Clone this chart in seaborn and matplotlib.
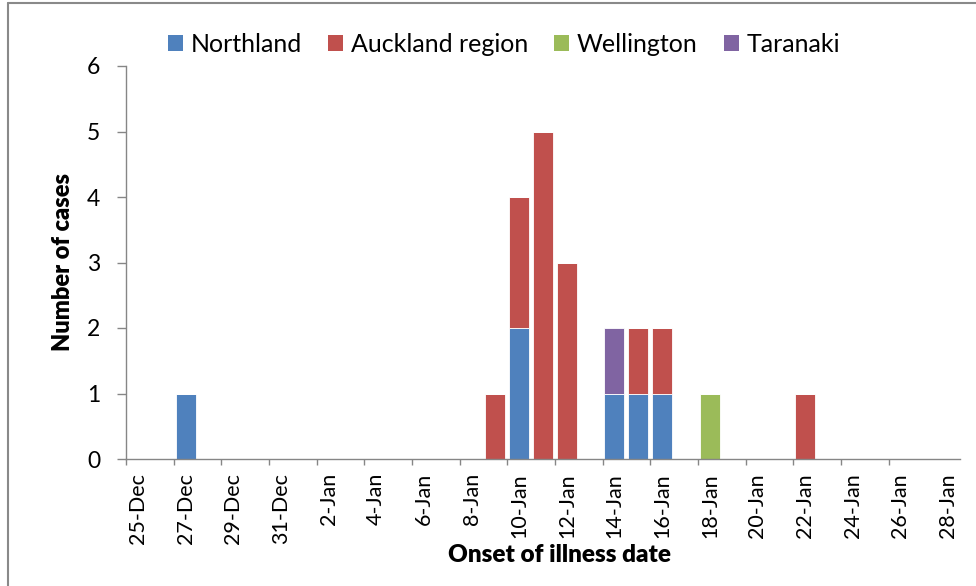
import pandas as pd
import matplotlib
matplotlib.use('Agg')
import matplotlib.pyplot as plt
import seaborn as sns
from matplotlib.patches import Patch
from matplotlib.lines import Line2D

# data
day_labels = [d.strftime('%-d-%b') for d in pd.date_range('2013-12-25', '2014-01-28')]

northland_dates = ['27-Dec', '10-Jan', '14-Jan', '15-Jan', '16-Jan']
northland_cases = [1, 2, 1, 1, 1]
auckland_dates = ['9-Jan', '10-Jan', '11-Jan', '12-Jan', '15-Jan', '16-Jan', '22-Jan']
auckland_cases = [1, 2, 5, 3, 1, 1, 1]
wellington_dates = ['18-Jan']
wellington_cases = [1]
taranaki_dates = ['14-Jan']
taranaki_cases = [1]

regions = ['Northland', 'Auckland region', 'Wellington', 'Taranaki']
colors = ['#4F81BD', '#C0504D', '#9BBB59', '#8064A2']

rows = []
for reg, dates, cases in zip(regions,
                             [northland_dates, auckland_dates, wellington_dates, taranaki_dates],
                             [northland_cases, auckland_cases, wellington_cases, taranaki_cases]):
    for d, c in zip(dates, cases):
        rows.append({'day': day_labels.index(d), 'region': reg, 'cases': c})
df = pd.DataFrame(rows)

sns.set_style('white')
plt.rcParams['font.family'] = ['Lato', 'DejaVu Sans']
plt.rcParams['text.color'] = 'black'
plt.rcParams['xtick.color'] = 'black'
plt.rcParams['ytick.color'] = 'black'

fig = plt.figure(figsize=(9.76, 5.86), dpi=100)
ax = fig.add_axes([126 / 976, 1 - 459 / 586, 834 / 976, 393 / 586])

# seaborn stacks the last hue level at the bottom
sns.histplot(data=df, x='day', weights='cases', hue='region',
             hue_order=regions[::-1], palette=dict(zip(regions, colors)),
             multiple='stack', discrete=True, shrink=0.84, alpha=1,
             edgecolor='white', linewidth=0.6, legend=False, ax=ax)

ax.set_xlim(-0.5, len(day_labels) - 0.5)
ax.set_ylim(0, 6)
ax.set_yticks(range(0, 7))
ax.tick_params(axis='y', length=6.5, width=1, color='#868686', labelcolor='black',
               pad=12, labelsize=16.5)

ax.set_xticks(range(0, len(day_labels), 2))
ax.set_xticklabels(day_labels[::2], rotation=90, fontsize=15.5)
ax.set_xticks([i - 0.5 for i in range(0, len(day_labels) - 1, 2)], minor=True)
ax.tick_params(axis='x', which='major', length=0, pad=10, labelcolor='black')
ax.tick_params(axis='x', which='minor', length=4.5, width=1, color='#868686', bottom=True)
ax.tick_params(left=True)

for s in ['top', 'right']:
    ax.spines[s].set_visible(False)
for s in ['left', 'bottom']:
    ax.spines[s].set_color('#868686')
    ax.spines[s].set_linewidth(1)

ax.set_xlabel('')
ax.set_ylabel('')
fig.text(63 / 976, 1 - 262 / 586, 'Number of cases', rotation=90, ha='center', va='center',
         fontsize=17, fontweight='heavy')
fig.text(559 / 976, 1 - 555 / 586, 'Onset of illness date', ha='center', va='center',
         fontsize=17.5, fontweight='heavy')

handles = [Patch(facecolor=c, edgecolor='none') for c in colors]
fig.legend(handles, regions, loc='center', bbox_to_anchor=(504 / 976, 1 - 44 / 586),
           ncol=4, frameon=False, fontsize=18, handlelength=0.6, handleheight=0.6,
           handletextpad=0.3, columnspacing=1.05)

# chart area border (left and top edges visible)
fig.add_artist(Line2D([8 / 976, 8 / 976], [0, 1 - 3 / 586], transform=fig.transFigure,
                      color='#898989', linewidth=1.5))
fig.add_artist(Line2D([8 / 976, 1], [1 - 3 / 586, 1 - 3 / 586], transform=fig.transFigure,
                      color='#898989', linewidth=1.5))

fig.savefig('out.png', dpi=100)
